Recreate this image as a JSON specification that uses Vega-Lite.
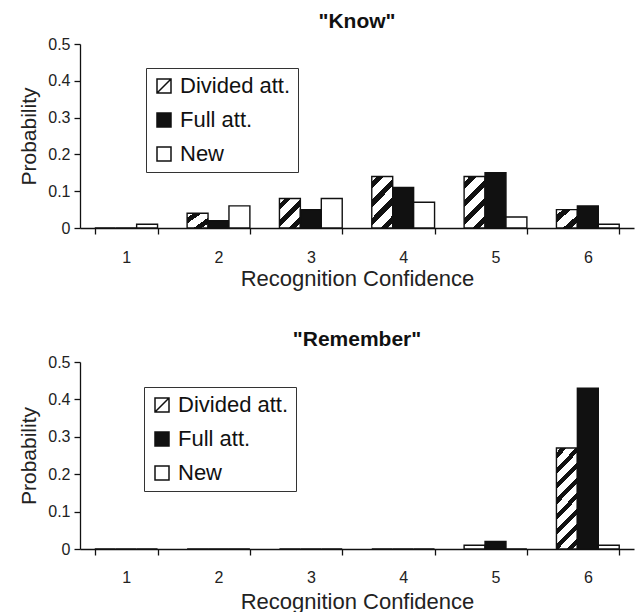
{
  "$schema": "https://vega.github.io/schema/vega-lite/v6.json",
  "padding": {"left": 18, "top": 11, "right": 4, "bottom": 0},
  "spacing": 40,
  "config": {
    "font": "Liberation Sans",
    "view": {"stroke": null},
    "axis": {"grid": false, "domainColor": "#111", "tickColor": "#111", "labelColor": "#222", "titleColor": "#222", "domainWidth": 1.3, "tickWidth": 1.3, "titleFontWeight": "normal"},
    "title": {"color": "#111", "fontWeight": "bold", "fontSize": 21, "anchor": "middle"}
  },
  "data": {"values": [
    {"panel": "Know", "conf": 1, "series": "Divided att.", "p": 0},
    {"panel": "Know", "conf": 1, "series": "Full att.", "p": 0},
    {"panel": "Know", "conf": 1, "series": "New", "p": 0.01},
    {"panel": "Know", "conf": 2, "series": "Divided att.", "p": 0.04},
    {"panel": "Know", "conf": 2, "series": "Full att.", "p": 0.02},
    {"panel": "Know", "conf": 2, "series": "New", "p": 0.06},
    {"panel": "Know", "conf": 3, "series": "Divided att.", "p": 0.08},
    {"panel": "Know", "conf": 3, "series": "Full att.", "p": 0.05},
    {"panel": "Know", "conf": 3, "series": "New", "p": 0.08},
    {"panel": "Know", "conf": 4, "series": "Divided att.", "p": 0.14},
    {"panel": "Know", "conf": 4, "series": "Full att.", "p": 0.11},
    {"panel": "Know", "conf": 4, "series": "New", "p": 0.07},
    {"panel": "Know", "conf": 5, "series": "Divided att.", "p": 0.14},
    {"panel": "Know", "conf": 5, "series": "Full att.", "p": 0.15},
    {"panel": "Know", "conf": 5, "series": "New", "p": 0.03},
    {"panel": "Know", "conf": 6, "series": "Divided att.", "p": 0.05},
    {"panel": "Know", "conf": 6, "series": "Full att.", "p": 0.06},
    {"panel": "Know", "conf": 6, "series": "New", "p": 0.01},
    {"panel": "Remember", "conf": 1, "series": "Divided att.", "p": 0},
    {"panel": "Remember", "conf": 1, "series": "Full att.", "p": 0},
    {"panel": "Remember", "conf": 1, "series": "New", "p": 0},
    {"panel": "Remember", "conf": 2, "series": "Divided att.", "p": 0},
    {"panel": "Remember", "conf": 2, "series": "Full att.", "p": 0},
    {"panel": "Remember", "conf": 2, "series": "New", "p": 0},
    {"panel": "Remember", "conf": 3, "series": "Divided att.", "p": 0},
    {"panel": "Remember", "conf": 3, "series": "Full att.", "p": 0},
    {"panel": "Remember", "conf": 3, "series": "New", "p": 0},
    {"panel": "Remember", "conf": 4, "series": "Divided att.", "p": 0},
    {"panel": "Remember", "conf": 4, "series": "Full att.", "p": 0},
    {"panel": "Remember", "conf": 4, "series": "New", "p": 0},
    {"panel": "Remember", "conf": 5, "series": "Divided att.", "p": 0.01},
    {"panel": "Remember", "conf": 5, "series": "Full att.", "p": 0.02},
    {"panel": "Remember", "conf": 5, "series": "New", "p": 0},
    {"panel": "Remember", "conf": 6, "series": "Divided att.", "p": 0.27},
    {"panel": "Remember", "conf": 6, "series": "Full att.", "p": 0.43},
    {"panel": "Remember", "conf": 6, "series": "New", "p": 0.01}
  ]},
  "resolve": {"scale": {"fill": "independent", "x": "independent", "y": "independent", "xOffset": "independent"}, "legend": {"fill": "independent"}},
  "vconcat": [
    {
      "width": 554, "height": 184,
      "title": {"text": "\"Know\"", "offset": 4},
      "transform": [{"filter": "datum.panel === 'Know'"}],
      "mark": {"type": "bar", "stroke": "#111", "strokeWidth": 1.4},
      "encoding": {
        "x": {"field": "conf", "type": "ordinal", "scale": {"paddingInner": 0.32, "paddingOuter": 0.16},
              "axis": {"labelAngle": 0, "tickBand": "extent", "tickSize": 6, "labelFontSize": 16, "labelPadding": 15, "title": "Recognition Confidence", "titleFontSize": 22, "titlePadding": 3}},
        "xOffset": {"field": "series", "type": "nominal", "scale": {"domain": ["Divided att.", "Full att.", "New"], "paddingInner": 0, "paddingOuter": 0}},
        "y": {"field": "p", "type": "quantitative", "scale": {"domain": [0, 0.5]},
              "axis": {"values": [0, 0.1, 0.2, 0.3, 0.4, 0.5], "format": ".1~f", "tickSize": 6, "labelFontSize": 16, "labelPadding": 4, "title": "Probability", "titleFontSize": 21, "titlePadding": 8}},
        "fill": {
          "condition": [
            {"test": "datum.series === 'Divided att.' && datum.p >= 0.12", "value": {"gradient": "linear", "x1": 0, "y1": 0, "x2": 0.495, "y2": 1.207, "stops": [
              {"offset": 0, "color": "white"}, {"offset": 0.075, "color": "white"}, {"offset": 0.075, "color": "#111"}, {"offset": 0.175, "color": "#111"}, {"offset": 0.175, "color": "white"},
              {"offset": 0.325, "color": "white"}, {"offset": 0.325, "color": "#111"}, {"offset": 0.425, "color": "#111"}, {"offset": 0.425, "color": "white"},
              {"offset": 0.575, "color": "white"}, {"offset": 0.575, "color": "#111"}, {"offset": 0.675, "color": "#111"}, {"offset": 0.675, "color": "white"},
              {"offset": 0.825, "color": "white"}, {"offset": 0.825, "color": "#111"}, {"offset": 0.925, "color": "#111"}, {"offset": 0.925, "color": "white"}, {"offset": 1, "color": "white"}]}},
            {"test": "datum.series === 'Divided att.' && datum.p >= 0.07", "value": {"gradient": "linear", "x1": 0, "y1": 0, "x2": 0.816, "y2": 1.133, "stops": [
              {"offset": 0, "color": "white"}, {"offset": 0.1, "color": "white"}, {"offset": 0.1, "color": "#111"}, {"offset": 0.233, "color": "#111"}, {"offset": 0.233, "color": "white"},
              {"offset": 0.433, "color": "white"}, {"offset": 0.433, "color": "#111"}, {"offset": 0.567, "color": "#111"}, {"offset": 0.567, "color": "white"},
              {"offset": 0.767, "color": "white"}, {"offset": 0.767, "color": "#111"}, {"offset": 0.9, "color": "#111"}, {"offset": 0.9, "color": "white"}, {"offset": 1, "color": "white"}]}},
            {"test": "datum.series === 'Divided att.' && datum.p >= 0.03", "value": {"gradient": "linear", "x1": 0, "y1": 0, "x2": 1, "y2": 1, "stops": [
              {"offset": 0, "color": "white"}, {"offset": 0.15, "color": "white"}, {"offset": 0.15, "color": "#111"}, {"offset": 0.35, "color": "#111"}, {"offset": 0.35, "color": "white"},
              {"offset": 0.65, "color": "white"}, {"offset": 0.65, "color": "#111"}, {"offset": 0.85, "color": "#111"}, {"offset": 0.85, "color": "white"}, {"offset": 1, "color": "white"}]}}
          ],
          "field": "series", "type": "nominal",
          "scale": {"domain": ["Divided att.", "Full att.", "New"], "range": ["white", "#111", "white"]},
          "legend": {"orient": "none", "legendX": 66, "legendY": 24, "title": null, "strokeColor": "#333", "padding": 7, "labelFontSize": 22, "labelColor": "#111", "labelOffset": 5, "symbolType": "square", "symbolSize": 196, "symbolStrokeColor": "#111", "symbolStrokeWidth": 1.5, "rowPadding": 12,
            "encode": {"symbols": {
              "enter": {"stroke": {"value": "#111"}, "strokeWidth": {"value": 1.5}},
              "update": {"stroke": {"value": "#111"}, "strokeWidth": {"value": 1.5},
                "shape": {"signal": "datum.value === 'Divided att.' ? 'M-1,-1H1V1H-1ZM-1,1L1,-1' : 'square'"},
                "fill": {"signal": "datum.value === 'Full att.' ? '#111' : 'white'"}}}}}
        }
      }
    },
    {
      "width": 554, "height": 187,
      "title": {"text": "\"Remember\"", "offset": 4},
      "transform": [{"filter": "datum.panel === 'Remember'"}],
      "mark": {"type": "bar", "stroke": "#111", "strokeWidth": 1.4},
      "encoding": {
        "x": {"field": "conf", "type": "ordinal", "scale": {"paddingInner": 0.32, "paddingOuter": 0.16},
              "axis": {"labelAngle": 0, "tickBand": "extent", "tickSize": 6, "labelFontSize": 16, "labelPadding": 14, "title": "Recognition Confidence", "titleFontSize": 22, "titlePadding": 6}},
        "xOffset": {"field": "series", "type": "nominal", "scale": {"domain": ["Divided att.", "Full att.", "New"], "paddingInner": 0, "paddingOuter": 0}},
        "y": {"field": "p", "type": "quantitative", "scale": {"domain": [0, 0.5]},
              "axis": {"values": [0, 0.1, 0.2, 0.3, 0.4, 0.5], "format": ".1~f", "tickSize": 6, "labelFontSize": 16, "labelPadding": 4, "title": "Probability", "titleFontSize": 21, "titlePadding": 8}},
        "fill": {
          "condition": [
            {"test": "datum.series === 'Divided att.' && datum.p >= 0.2", "value": {"gradient": "linear", "x1": 0, "y1": 0, "x2": 0.248, "y2": 1.161, "stops": [
              {"offset": 0, "color": "white"}, {"offset": 0.0375, "color": "white"}, {"offset": 0.0375, "color": "#111"}, {"offset": 0.0875, "color": "#111"}, {"offset": 0.0875, "color": "white"},
              {"offset": 0.1625, "color": "white"}, {"offset": 0.1625, "color": "#111"}, {"offset": 0.2125, "color": "#111"}, {"offset": 0.2125, "color": "white"},
              {"offset": 0.2875, "color": "white"}, {"offset": 0.2875, "color": "#111"}, {"offset": 0.3375, "color": "#111"}, {"offset": 0.3375, "color": "white"},
              {"offset": 0.4125, "color": "white"}, {"offset": 0.4125, "color": "#111"}, {"offset": 0.4625, "color": "#111"}, {"offset": 0.4625, "color": "white"},
              {"offset": 0.5375, "color": "white"}, {"offset": 0.5375, "color": "#111"}, {"offset": 0.5875, "color": "#111"}, {"offset": 0.5875, "color": "white"},
              {"offset": 0.6625, "color": "white"}, {"offset": 0.6625, "color": "#111"}, {"offset": 0.7125, "color": "#111"}, {"offset": 0.7125, "color": "white"},
              {"offset": 0.7875, "color": "white"}, {"offset": 0.7875, "color": "#111"}, {"offset": 0.8375, "color": "#111"}, {"offset": 0.8375, "color": "white"},
              {"offset": 0.9125, "color": "white"}, {"offset": 0.9125, "color": "#111"}, {"offset": 0.9625, "color": "#111"}, {"offset": 0.9625, "color": "white"}, {"offset": 1, "color": "white"}]}}
          ],
          "field": "series", "type": "nominal",
          "scale": {"domain": ["Divided att.", "Full att.", "New"], "range": ["white", "#111", "white"]},
          "legend": {"orient": "none", "legendX": 64, "legendY": 25, "title": null, "strokeColor": "#333", "padding": 7, "labelFontSize": 22, "labelColor": "#111", "labelOffset": 5, "symbolType": "square", "symbolSize": 196, "symbolStrokeColor": "#111", "symbolStrokeWidth": 1.5, "rowPadding": 12,
            "encode": {"symbols": {
              "enter": {"stroke": {"value": "#111"}, "strokeWidth": {"value": 1.5}},
              "update": {"stroke": {"value": "#111"}, "strokeWidth": {"value": 1.5},
                "shape": {"signal": "datum.value === 'Divided att.' ? 'M-1,-1H1V1H-1ZM-1,1L1,-1' : 'square'"},
                "fill": {"signal": "datum.value === 'Full att.' ? '#111' : 'white'"}}}}}
        }
      }
    }
  ]
}
